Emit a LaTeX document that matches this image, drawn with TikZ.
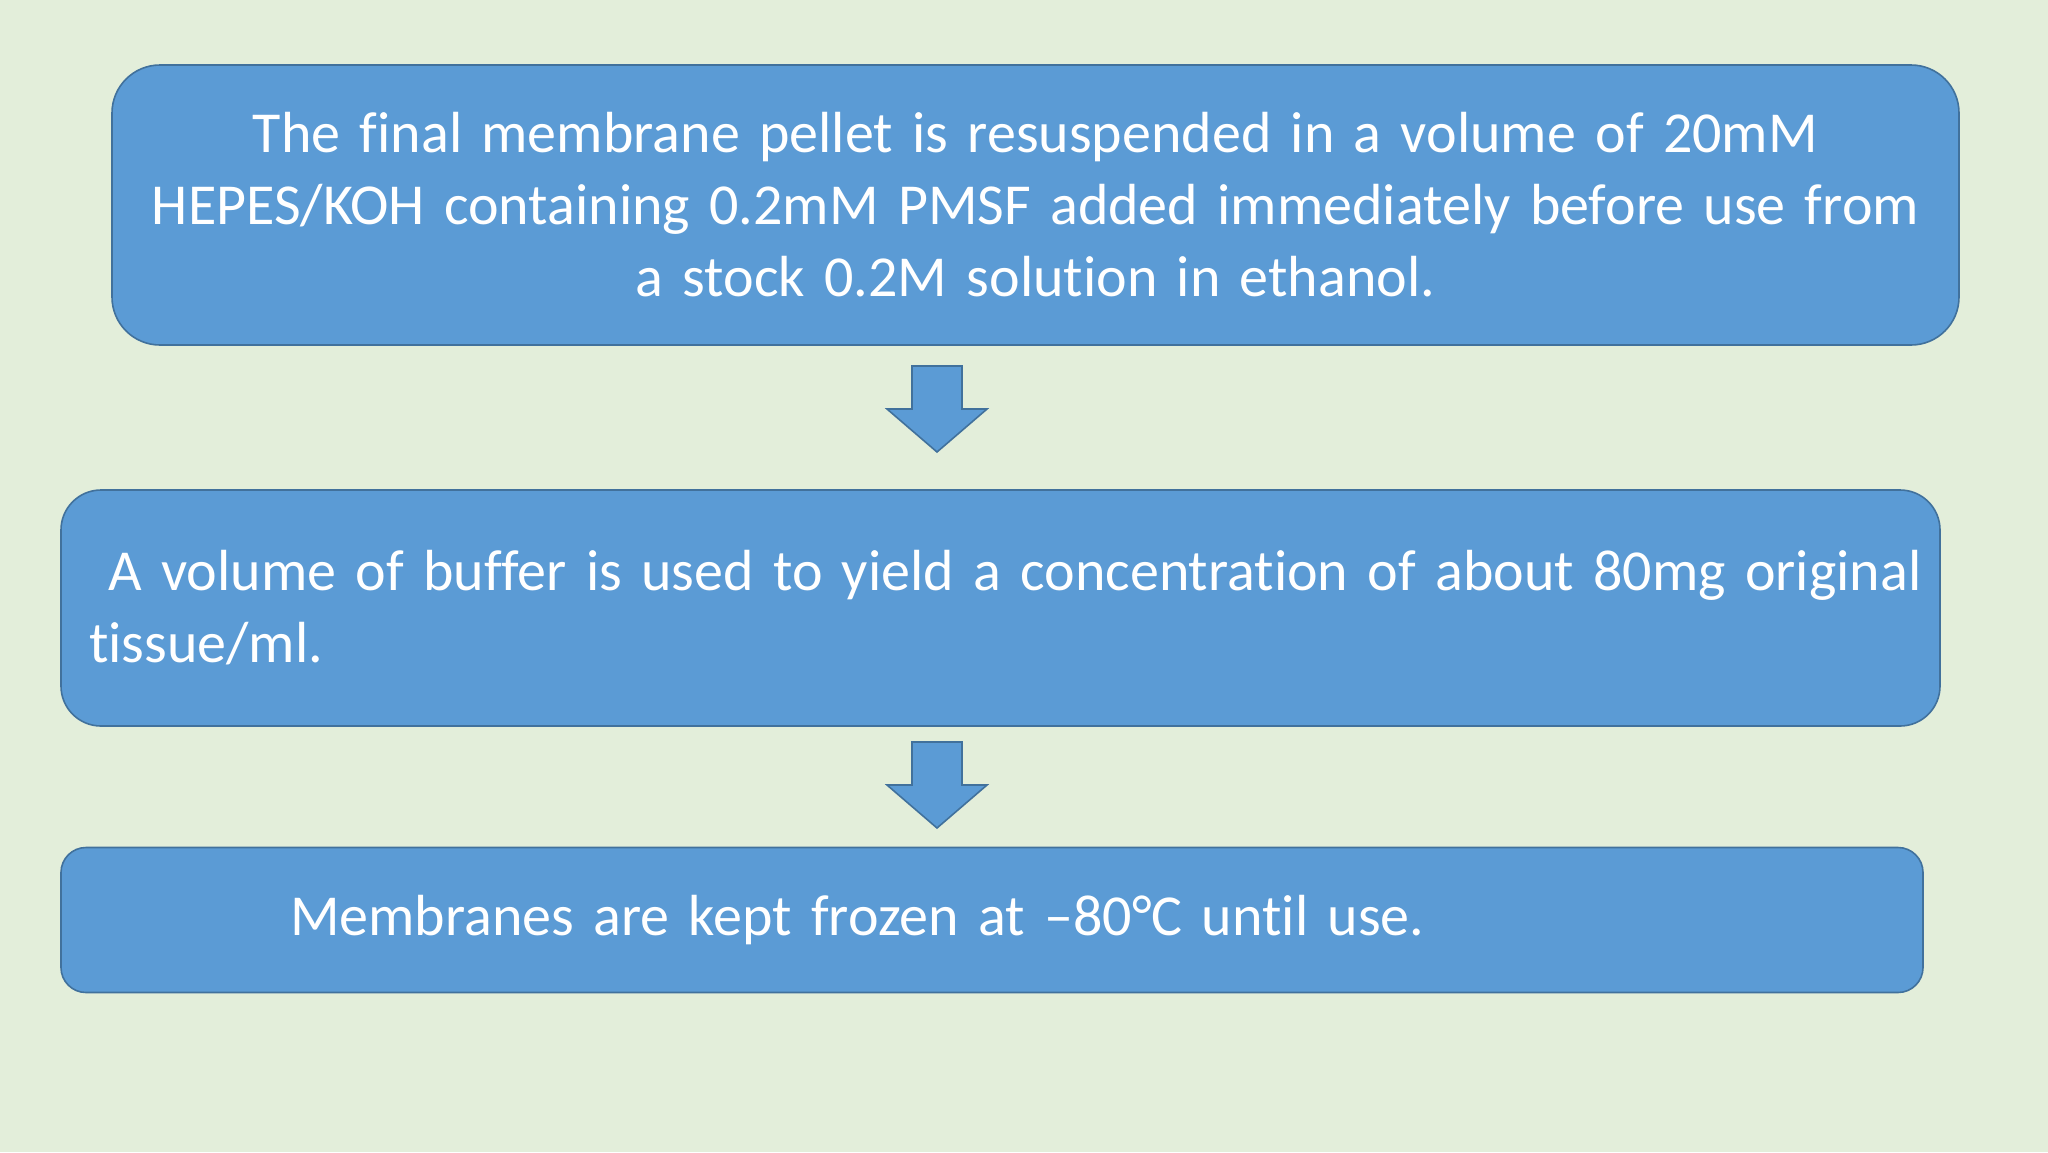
\documentclass[tikz,border=0pt]{standalone}
\usepackage{fontspec}
\setmainfont{Carlito}[Ligatures=NoCommon]
\usetikzlibrary{positioning}
\definecolor{bgpanel}{HTML}{E3EEDA}
\definecolor{stepfill}{HTML}{5B9BD5}
\definecolor{stepline}{HTML}{41719C}
\newcommand{\stepfont}{\fontsize{58}{72}\selectfont\fontdimen2\font=11.4pt\relax}

\begin{document}
\begin{tikzpicture}[x=1pt,y=-1pt,
		stepbox/.style={draw=stepline, fill=stepfill, line width=1.6pt, text=white, font=\stepfont},
		downarrow/.style={draw=stepline, fill=stepfill, line width=1.6pt, line join=miter}]
		\fill[bgpanel] (0,0) rectangle (2048,1152);
		\useasboundingbox (0,0) rectangle (2048,1152);
		\node[stepbox, rounded corners=48pt, minimum width=1847pt, minimum height=280pt, inner xsep=30pt, text width=1787pt, align=center] (pellet) at (1035.5,205) {The final membrane pellet is resuspended in a volume of 20mM\\HEPES/KOH containing 0.2mM PMSF added immediately before use from\\a stock 0.2M solution in ethanol.};
		\node[stepbox, rounded corners=40pt, minimum width=1879pt, minimum height=236pt, inner xsep=28pt, text width=1823pt, align=left] (buffer) at (1000.5,608) {\mbox{\ A volume of buffer is used to yield a concentration of about 80mg original}\\tissue/ml.};
		\node[stepbox, rounded corners=25pt, minimum width=1862pt, minimum height=145pt, inner xsep=28pt, text width=1806pt, align=left] (frozen) at (992,920) {\hspace*{201pt}Membranes are kept frozen at –80°C until use.};
		% block arrows between the steps
		\coordinate (arrowA) at (937,366);
		\coordinate (arrowB) at (937,742);
		\foreach \a in {arrowA,arrowB}
			\draw[downarrow] (\a) ++(-25,0) -- ++(50,0) -- ++(0,43) -- ++(25,0) -- ++(-50,43) -- ++(-50,-43) -- ++(25,0) -- cycle;
	\end{tikzpicture}
\end{document}
